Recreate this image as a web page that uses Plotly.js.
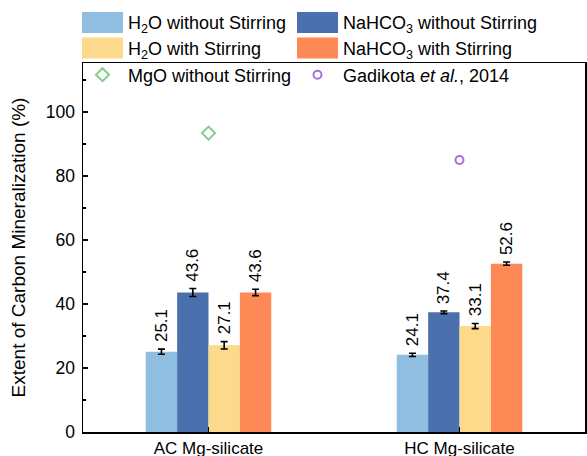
<!DOCTYPE html>
<html>
<head>
<meta charset="utf-8">
<script src="https://cdn.plot.ly/plotly-3.0.1.min.js"></script>
<style>html,body{margin:0;padding:0;background:#fff;}#chart{width:587px;height:456px;}</style>
</head>
<body>
<div id="chart"></div>
<script>
// ---- data ----
const categories = ['AC Mg-silicate', 'HC Mg-silicate'];
const seriesNames = ['H<sub>2</sub>O without Stirring', 'NaHCO<sub>3</sub> without Stirring', 'H<sub>2</sub>O with Stirring', 'NaHCO<sub>3</sub> with Stirring'];
const h2oNoStir = [25.1, 24.1];
const nahco3NoStir = [43.6, 37.4];
const h2oStir = [27.1, 33.1];
const nahco3Stir = [43.6, 52.6];
const h2oNoStirErr = [0.8, 0.5];
const nahco3NoStirErr = [1.25, 0.4];
const h2oStirErr = [1.15, 0.8];
const nahco3StirErr = [1.0, 0.5];
const mgoCategory = ['AC Mg-silicate'];
const mgoValue = [93.4];
const gadikotaCategory = ['HC Mg-silicate'];
const gadikotaValue = [85.0];

// ---- styles ----
const colors = ['#8fbee1', '#4a70ad', '#fdd98b', '#fd8a56'];
const FONT = 'Liberation Sans, Arial, sans-serif';
const barGap = 0.5;

const W = 587, H = 456;
const M = {l: 83, r: 2, t: 63, b: 24};
const plotW = W - M.l - M.r, plotH = H - M.t - M.b;
const px2x = p => (p - M.l) / plotW;
const px2y = p => (H - M.b - p) / plotH;

// legend grid (pixels in the figure): two columns, three rows
const colSymbolX = [102.5, 317.5];
const rowY = [22.5, 48, 75];
const itemW = 41;

const seriesVals = [h2oNoStir, nahco3NoStir, h2oStir, nahco3Stir];
const seriesErr = [h2oNoStirErr, nahco3NoStirErr, h2oStirErr, nahco3StirErr];
const legendIds = ['legend', 'legend2', 'legend3', 'legend4', 'legend5', 'legend6'];

const traces = seriesVals.map((vals, j) => ({
  type: 'bar',
  name: seriesNames[j],
  x: categories,
  y: vals,
  marker: {color: colors[j], line: {width: 0}},
  error_y: {type: 'data', array: seriesErr[j], visible: true, color: '#000', thickness: 1.6, width: 3.5},
  legend: legendIds[j],
  hoverinfo: 'skip'
}));

traces.push({
  type: 'scatter', mode: 'markers', name: 'MgO without Stirring',
  x: mgoCategory, y: mgoValue,
  marker: {symbol: 'diamond-open', size: 10, color: '#7fd08a', line: {width: 2, color: '#7fd08a'}},
  legend: legendIds[4], hoverinfo: 'skip'
});
traces.push({
  type: 'scatter', mode: 'markers', name: 'Gadikota <i>et al.</i>, 2014',
  x: gadikotaCategory, y: gadikotaValue,
  marker: {symbol: 'circle-open', size: 8, color: '#a66ee0', line: {width: 2, color: '#a66ee0'}},
  legend: legendIds[5], hoverinfo: 'skip'
});

// value labels placed above each error bar, using the bar group geometry
const nSeries = seriesVals.length;
const barW = (1 - barGap) / nSeries;
const annotations = [];
seriesVals.forEach((vals, j) => {
  vals.forEach((v, i) => {
    annotations.push({
      x: i + (j - (nSeries - 1) / 2) * barW,
      y: v + seriesErr[j][i],
      xref: 'x', yref: 'y',
      text: v.toFixed(1),
      textangle: -90,
      showarrow: false,
      yanchor: 'bottom', xanchor: 'center',
      yshift: 5,
      font: {family: FONT, size: 17, color: '#000'}
    });
  });
});

const layout = {
  width: W, height: H,
  margin: M,
  paper_bgcolor: '#fff', plot_bgcolor: '#fff',
  font: {family: FONT, color: '#000'},
  barmode: 'group', bargap: barGap, bargroupgap: 0,
  showlegend: true,
  xaxis: {
    type: 'category', range: [-0.5, 1.5],
    showline: true, linecolor: '#000', linewidth: 1.5, mirror: true,
    ticks: 'inside', ticklen: 5, tickwidth: 1.5, tickcolor: '#000',
    showgrid: false, zeroline: false,
    tickfont: {family: FONT, size: 17, color: '#000'}
  },
  yaxis: {
    range: [0, 115.3], tickvals: [0, 20, 40, 60, 80, 100],
    showline: true, linecolor: '#000', linewidth: 1.5, mirror: true,
    ticks: 'inside', ticklen: 5, tickwidth: 1.5, tickcolor: '#000',
    minor: {tickvals: [10, 30, 50, 70, 90, 110], ticks: 'inside', ticklen: 3, tickwidth: 1.2, tickcolor: '#000'},
    showgrid: false, zeroline: false,
    ticklabelstandoff: 3,
    tickfont: {family: FONT, size: 17.5, color: '#000'},
    title: {text: 'Extent of Carbon Mineralization (%)', font: {family: FONT, size: 19, color: '#000'}, standoff: 15}
  },
  annotations: annotations,
  shapes: []
};

// one legend per entry, laid out on the grid
legendIds.forEach((id, k) => {
  const row = Math.floor(k / 2), col = k % 2;
  layout[id] = {
    orientation: 'v',
    xanchor: 'left', yanchor: 'middle',
    x: px2x(colSymbolX[col] - 5 - itemW / 2),
    y: px2y(rowY[row]),
    itemwidth: itemW,
    font: {family: FONT, size: 18, color: '#000'},
    bgcolor: 'rgba(0,0,0,0)', borderwidth: 0, itemclick: false, itemdoubleclick: false
  };
});

// large colour patches for the bar legend entries
for (let k = 0; k < 4; k++) {
  const row = Math.floor(k / 2), col = k % 2;
  const cx = colSymbolX[col], cy = rowY[row];
  layout.shapes.push({type: 'rect', xref: 'paper', yref: 'paper', layer: 'above',
    x0: px2x(cx - 20.5), x1: px2x(cx + 20.5),
    y0: px2y(cy + 10.5), y1: px2y(cy - 10.5),
    line: {width: 0}, fillcolor: colors[k]});
}

Plotly.newPlot('chart', traces, layout, {staticPlot: true, displayModeBar: false});
</script>
</body>
</html>
